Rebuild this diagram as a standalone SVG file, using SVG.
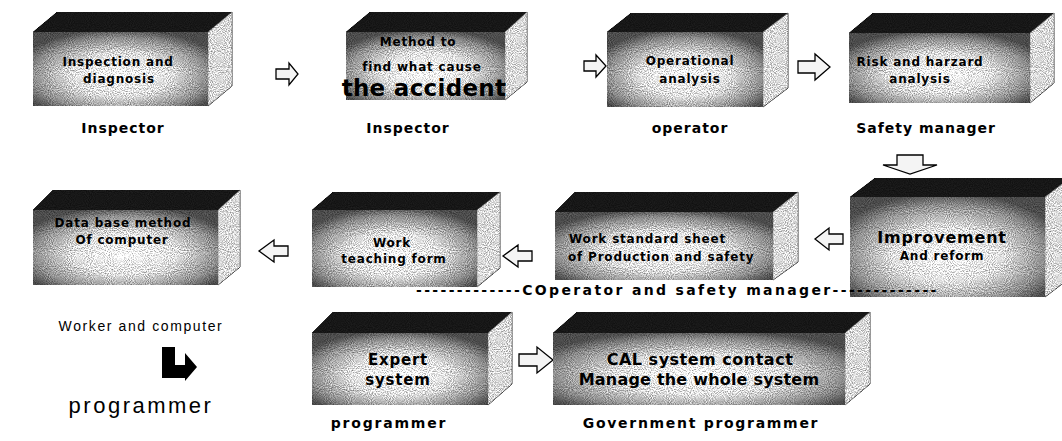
<svg xmlns="http://www.w3.org/2000/svg" width="1062" height="441" viewBox="0 0 1062 441">
<defs>
<radialGradient id="frontG" cx="0.5" cy="0.58" r="0.62">
<stop offset="0" stop-color="#f2f2f2"/>
<stop offset="0.45" stop-color="#d4d4d4"/>
<stop offset="0.8" stop-color="#888"/>
<stop offset="1" stop-color="#484848"/>
</radialGradient>
<filter id="grain" x="-5%" y="-5%" width="110%" height="110%" color-interpolation-filters="sRGB">
<feTurbulence type="fractalNoise" baseFrequency="0.95" numOctaves="1" seed="7" result="n"/>
<feColorMatrix in="n" type="matrix" values="1 0 0 0 0  1 0 0 0 0  1 0 0 0 0  0 0 0 0 1" result="g"/>
<feComposite in="SourceGraphic" in2="g" operator="arithmetic" k1="1.4" k2="0.35" k3="0" k4="0"/>
</filter>
<style>
.front{fill:url(#frontG);}
.top{fill:#161616;}
.side{fill:#cfcfcf;stroke:#666;stroke-width:0.6;}
.bt{font-family:"DejaVu Sans",sans-serif;font-weight:bold;font-size:12px;fill:#000;text-anchor:middle;letter-spacing:0.8px;}
.lab{font-family:"DejaVu Sans",sans-serif;font-weight:bold;font-size:14px;fill:#000;text-anchor:middle;letter-spacing:1px;}
.reg{font-family:"Liberation Sans",Arial,sans-serif;fill:#000;text-anchor:middle;}
.arr{fill:#f4f4f4;stroke:#000;stroke-width:1.3;stroke-linejoin:miter;}
</style>
</defs>
<rect width="1062" height="441" fill="#fff"/>

<g id="connectors">
<path class="arr" d="M276 69 H289 V63 L298 74 L289 85 V79 H276 Z"/>
<path class="arr" d="M584 61 H596 V55 L606 66 L596 77 V71 H584 Z"/>
<path class="arr" d="M798 61 H815 V54 L830 67 L815 80 V73 H798 Z"/>
<path class="arr" d="M897 155 H923 V165 H937 L910 174 L883 165 H897 Z"/>
<path class="arr" d="M843 234 H829 V228 L815 239 L829 250 V244 H843 Z"/>
<path class="arr" d="M532 251 H518 V245 L503 256 L518 267 V261 H532 Z"/>
<path class="arr" d="M288 246 H274 V240 L259 251 L274 262 V256 H288 Z"/>
<path class="arr" d="M519 354 H537 V347 L553 360 L537 373 V366 H519 Z"/>
<path d="M162 347 H175 V365 H185 V353 L197 367 L185 381 V378 H162 Z" fill="#000"/>
</g>

<g id="n1"><g filter="url(#grain)">
<polygon class="top" points="33,32 57,12 232,12 208,32"/>
<polygon class="side" points="208,32 232,12 232,86 208,106"/>
<rect class="front" x="33" y="32" width="175" height="74"/></g>
<text class="bt" x="118" y="66">Inspection and</text>
<text class="bt" x="119" y="83">diagnosis</text>
</g>

<g id="n2"><g filter="url(#grain)">
<polygon class="top" points="346,32 370,12 527,12 505,32"/>
<polygon class="side" points="505,32 527,12 527,82 505,100"/>
<rect class="front" x="346" y="32" width="159" height="68"/></g>
<text class="bt" x="418" y="46">Method to</text>
<text class="bt" x="422" y="71">find what cause</text>
<text class="bt" x="424" y="96" style="font-size:23px;letter-spacing:0.3px">the accident</text>
</g>

<g id="n3"><g filter="url(#grain)">
<polygon class="top" points="607,32 631,13 788,13 763,32"/>
<polygon class="side" points="763,32 788,13 788,88 763,107"/>
<rect class="front" x="607" y="32" width="156" height="75"/></g>
<text class="bt" x="690" y="65">Operational</text>
<text class="bt" x="690" y="83">analysis</text>
</g>

<g id="n4"><g filter="url(#grain)">
<polygon class="top" points="849,33 873,13 1054,13 1030,33"/>
<polygon class="side" points="1030,33 1054,13 1054,83 1030,103"/>
<rect class="front" x="849" y="33" width="181" height="70"/></g>
<text class="bt" x="920" y="66">Risk and harzard</text>
<text class="bt" x="920" y="83">analysis</text>
</g>

<g id="n5"><g filter="url(#grain)">
<polygon class="top" points="33,210 53,190 240,190 218,210"/>
<polygon class="side" points="218,210 240,190 240,267 218,285"/>
<rect class="front" x="33" y="210" width="185" height="75"/></g>
<text class="bt" x="123" y="227">Data base method</text>
<text class="bt" x="122" y="244">Of computer</text>
</g>

<g id="n6"><g filter="url(#grain)">
<polygon class="top" points="312,210 333,192 500,192 477,210"/>
<polygon class="side" points="477,210 500,192 500,268 477,287"/>
<rect class="front" x="312" y="210" width="165" height="77"/></g>
<text class="bt" x="392" y="247">Work</text>
<text class="bt" x="394" y="263">teaching form</text>
</g>

<g id="n7"><g filter="url(#grain)">
<polygon class="top" points="555,212 575,192 798,192 773,212"/>
<polygon class="side" points="773,212 798,192 798,262 773,280"/>
<rect class="front" x="555" y="212" width="218" height="68"/></g>
<text class="bt" x="569" y="243" style="text-anchor:start">Work standard sheet</text>
<text class="bt" x="568" y="261" style="text-anchor:start">of Production and safety</text>
</g>

<g id="n8"><g filter="url(#grain)">
<polygon class="top" points="850,197 875,178 1070,178 1045,197"/>
<polygon class="side" points="1045,197 1070,178 1070,278 1045,297"/>
<rect class="front" x="850" y="197" width="195" height="100"/></g>
<text class="bt" x="942" y="243" style="font-size:16px">Improvement</text>
<text class="bt" x="942" y="260">And reform</text>
</g>

<g id="n9"><g filter="url(#grain)">
<polygon class="top" points="312,333 333,312 512,312 488,333"/>
<polygon class="side" points="488,333 512,312 512,384 488,405"/>
<rect class="front" x="312" y="333" width="176" height="72"/></g>
<text class="bt" x="398" y="365" style="font-size:15px">Expert</text>
<text class="bt" x="398" y="385" style="font-size:15px">system</text>
</g>

<g id="n10"><g filter="url(#grain)">
<polygon class="top" points="553,333 577,312 870,312 845,333"/>
<polygon class="side" points="845,333 870,312 870,384 845,405"/>
<rect class="front" x="553" y="333" width="292" height="72"/></g>
<text class="bt" x="700" y="365" style="font-size:16px;letter-spacing:0.5px">CAL system contact</text>
<text class="bt" x="699" y="385" style="font-size:16px;letter-spacing:0.2px">Manage the whole system</text>
</g>

<g id="labels">
<text class="lab" x="123" y="133">Inspector</text>
<text class="lab" x="408" y="133">Inspector</text>
<text class="lab" x="690" y="133">operator</text>
<text class="lab" x="926" y="133">Safety manager</text>
<text class="lab" x="677" y="295" style="letter-spacing:1.6px" textLength="522" lengthAdjust="spacing">-------------COperator and safety manager-------------</text>
<text class="reg" x="141" y="331" style="font-size:14px;letter-spacing:1.6px">Worker and computer</text>
<text class="reg" x="141" y="413" style="font-size:22px;letter-spacing:2.5px">programmer</text>
<text class="lab" x="389" y="428" style="letter-spacing:1.8px">programmer</text>
<text class="lab" x="701" y="428" style="letter-spacing:1.7px">Government programmer</text>
</g>
</svg>
